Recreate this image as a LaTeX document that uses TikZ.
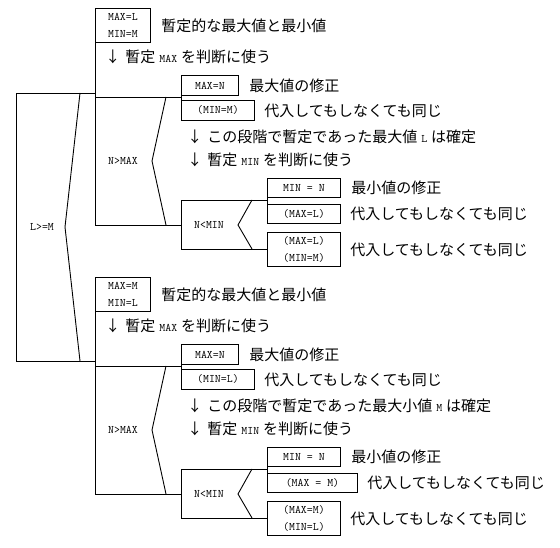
\documentclass[tikz,border=0pt]{standalone}
\usepackage{fontspec}
\setmainfont{Noto Sans CJK JP}
\usetikzlibrary{positioning}
\newcommand{\padjp}{\fontsize{15}{18}\selectfont}
\newcommand{\padtt}{\fontsize{11.5}{17}\selectfont\ttfamily}
\newcommand{\padvar}[1]{\hspace{4pt}{\fontsize{11.5}{12}\selectfont\ttfamily #1}\hspace{4pt}}

\begin{document}
\begin{tikzpicture}[x=1pt, y=-1pt, line width=0.9pt, node distance=10pt,
		padbox/.style={draw, anchor=north west, inner sep=0pt, align=center, font=\padtt},
		remark/.style={anchor=west, inner sep=0pt, font=\padjp},
		cond/.style={inner sep=0pt, font=\padtt}]

	\useasboundingbox (0,0) rectangle (560,548);

	% Draw the two branches of L>=M.
	\foreach \h/\dy/\mx/\mn/\kind/\pmax/\pw in {u/0/L/M/最大値/{(MAX=L)}/73, l/269/M/L/最大小値/{(MAX = M)}/90} {

		% Draw boxes and their notes.
		\node[padbox, minimum width=55, minimum height=34] (init\h) at (95,8+\dy) {MAX=\mx\\MIN=\mn};
		\node[remark, right=of init\h] (initnote\h) {暫定的な最大値と最小値};
		\node[remark] (usemax\h) at (105,57+\dy) {↓\hspace{5pt}暫定\padvar{MAX}を判断に使う};

		\node[padbox, minimum width=57, minimum height=20] (maxn\h) at (181,75+\dy) {MAX=N};
		\node[remark, right=of maxn\h] {最大値の修正};
		\node[padbox, minimum width=73, minimum height=20] (pmin\h) at (181,100+\dy) {(MIN=\mn)};
		\node[remark, right=9pt of pmin\h] {代入してもしなくても同じ};
		\node[remark] (fixed\h) at (187,137+\dy) {↓\hspace{5pt}この段階で暫定であった\kind\padvar{\mx}は確定};
		\node[remark] (usemin\h) at (187,160+\dy) {↓\hspace{5pt}暫定\padvar{MIN}を判断に使う};

		\node[padbox, minimum width=73, minimum height=19] (minn\h) at (267,178+\dy) {MIN = N};
		\node[remark, right=of minn\h] {最小値の修正};
		\node[padbox, minimum width=\pw, minimum height=19] (pmax\h) at (267,204+\dy) {\pmax};
		\node[remark, right=9pt of pmax\h] {代入してもしなくても同じ};
		\node[padbox, minimum width=73, minimum height=34] (both\h) at (267,232+\dy) {(MAX=\mx)\\(MIN=\mn)};
		\node[remark, right=9pt of both\h] {代入してもしなくても同じ};

		% Conditions.
		\coordinate (gttop\h) at (95,97+\dy);
		\coordinate (gtbot\h) at (95,225+\dy);
		\coordinate (lttop\h) at (181,200+\dy);
		\coordinate (ltbot\h) at (181,249+\dy);
		\node[cond] (gt\h) at (123,161+\dy) {N>MAX};
		\node[cond] (lt\h) at (209,225+\dy) {N<MIN};

		% Sequence lines.
		\draw (init\h.south west) -- (gtbot\h) -- (gtbot\h -| lttop\h);
		\draw (gttop\h) -- (gttop\h -| maxn\h.west);
		\draw (maxn\h.south west) -- (pmin\h.north west);
		\draw (minn\h.south west) -- (pmax\h.north west);
		\draw (lttop\h -| minn\h.west) -- (lttop\h) -- (ltbot\h) -- (ltbot\h -| both\h.west);

		% Draw the < marks.
		\draw (166,97+\dy) -- (152,161+\dy) -- (166,225+\dy);
		\draw (252,200+\dy) -- (238,225+\dy) -- (252,249+\dy);
	}

	% Draw the outer condition.
	\coordinate (getop) at (16,93);
	\coordinate (gebot) at (16,361);
	\node[cond] (ge) at (42,227) {L>=M};
	\draw (getop -| initu.west) -- (getop) -- (gebot) -- (gebot -| initl.west);
	\draw (80,93) -- (65,227) -- (80,361);

\end{tikzpicture}
\end{document}
